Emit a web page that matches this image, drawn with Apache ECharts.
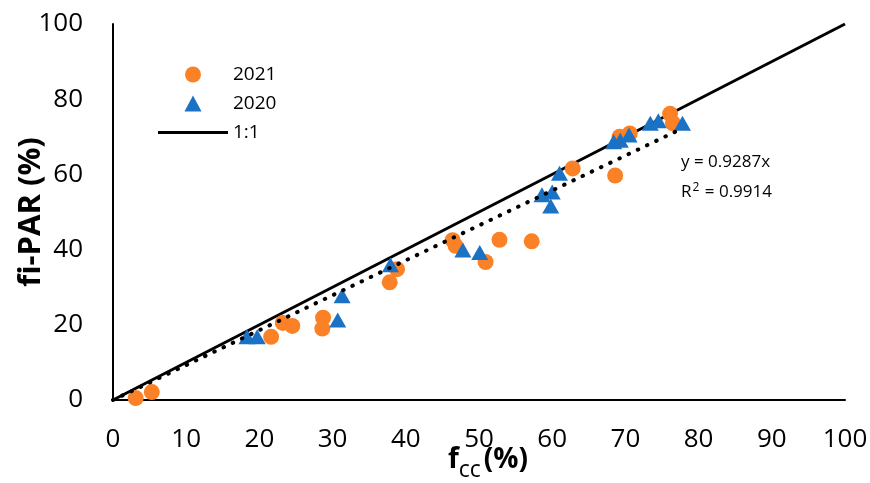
<!DOCTYPE html>
<html>
<head>
<meta charset="utf-8">
<script src="https://cdn.jsdelivr.net/npm/echarts@6/dist/echarts.min.js"></script>
<style>
  html, body { margin: 0; padding: 0; background: #ffffff; }
  #chart { width: 870px; height: 483px; }
</style>
</head>
<body>
<div id="chart"></div>
<script>
// f_cc (%) vs fi-PAR (%) measurements, one pair of arrays per season
const fcc2021   = [3.1, 5.3, 21.6, 23.2, 24.5, 28.6, 28.7, 37.8, 38.8, 46.4, 46.8, 50.9, 52.8, 57.2, 62.8, 68.6, 69.2, 70.6, 76.1, 76.5];
const fipar2021 = [0.5, 2.1, 16.8, 20.5, 19.7, 19.0, 21.9, 31.3, 34.8, 42.5, 41.0, 36.7, 42.6, 42.2, 61.6, 59.7, 70.0, 70.9, 76.1, 73.6];

const fcc2020   = [18.3, 19.7, 30.7, 31.3, 37.9, 47.8, 50.1, 58.6, 59.8, 60.0, 61.0, 68.4, 69.3, 70.5, 73.4, 74.5, 77.8];
const fipar2020 = [16.8, 16.8, 21.3, 27.7, 36.0, 39.9, 39.2, 54.6, 51.6, 55.3, 60.3, 68.7, 69.1, 70.5, 73.6, 74.3, 73.6];

// 1:1 reference line end points
const oneToOneX = [0, 100];

// Zero-intercept regression fitted to both seasons
const trendSlope = 0.9287;
const trendR2 = '0.9914';

const xTicks = { min: 0, max: 100, interval: 10 };
const yTicks = { min: 0, max: 100, interval: 20 };

const pairs = (xs, ys) => xs.map((x, i) => [x, ys[i]]);
const allX = fcc2021.concat(fcc2020);
const trendEnd = Math.max(...allX);

const FONT = '"Open Sans", "Liberation Sans", sans-serif';
const ORANGE = '#FB8126';
const BLUE = '#1B72C4';

const chart = echarts.init(document.getElementById('chart'), null, { renderer: 'canvas' });

chart.setOption({
  animation: false,
  backgroundColor: '#ffffff',
  textStyle: { fontFamily: FONT, color: '#000' },
  grid: { left: 113, right: 25, top: 24, bottom: 83, containLabel: false, outerBoundsMode: 'none' },
  legend: {
    data: [
      { name: '2021', icon: 'circle', itemStyle: { color: ORANGE } },
      { name: '2020', icon: 'path://M8,0 L16,15 L0,15 Z', itemStyle: { color: BLUE } },
      { name: '1:1', icon: 'path://M0,0 L70,0 L70,3 L0,3 Z', itemStyle: { color: '#000' } }
    ],
    orient: 'vertical',
    left: 158,
    top: 65,
    padding: 0,
    itemWidth: 70,
    itemHeight: 16,
    itemGap: 10,
    symbolKeepAspect: true,
    textStyle: { fontFamily: FONT, fontSize: 19, color: '#000' }
  },
  xAxis: {
    type: 'value',
    min: xTicks.min, max: xTicks.max, interval: xTicks.interval,
    axisLine: { show: true, lineStyle: { color: '#000', width: 2 } },
    axisTick: { show: false },
    splitLine: { show: false },
    axisLabel: { fontFamily: FONT, fontSize: 26, color: '#000', margin: 27 },
    name: '{f|f}{s|cc}{p|(%)}',
    nameLocation: 'middle',
    nameGap: 46,
    nameMoveOverlap: false,
    nameTextStyle: {
      rich: {
        f: { fontFamily: FONT, fontSize: 28, fontWeight: 'bold', color: '#000', lineHeight: 32, padding: [0, 0, 0, 18], verticalAlign: 'top' },
        s: { fontFamily: FONT, fontSize: 23, color: '#000', lineHeight: 23, padding: [13, 0, 0, 0], verticalAlign: 'top' },
        p: { fontFamily: FONT, fontSize: 28, fontWeight: 'bold', color: '#000', lineHeight: 32, padding: [0, 0, 0, 3], verticalAlign: 'top' }
      }
    }
  },
  yAxis: {
    type: 'value',
    min: yTicks.min, max: yTicks.max, interval: yTicks.interval,
    axisLine: { show: true, lineStyle: { color: '#000', width: 2 } },
    axisTick: { show: false },
    splitLine: { show: false },
    axisLabel: { fontFamily: FONT, fontSize: 26, color: '#000', margin: 30 },
    name: 'fi-PAR (%)',
    nameLocation: 'middle',
    nameGap: 66,
    nameMoveOverlap: false,
    nameTextStyle: { fontFamily: FONT, fontSize: 31, fontWeight: 'bold', color: '#000' }
  },
  series: [
    {
      name: '1:1',
      type: 'line',
      data: oneToOneX.map(v => [v, v]),
      symbol: 'none',
      lineStyle: { color: '#000', width: 3 },
      itemStyle: { color: '#000' },
      z: 1,
      silent: true
    },
    {
      name: '2021',
      type: 'scatter',
      data: pairs(fcc2021, fipar2021),
      symbol: 'circle',
      symbolSize: 16,
      itemStyle: { color: ORANGE, opacity: 1 },
      z: 2
    },
    {
      name: '2020',
      type: 'scatter',
      data: pairs(fcc2020, fipar2020),
      symbol: 'triangle',
      symbolSize: [17, 15],
      itemStyle: { color: BLUE, opacity: 1 },
      z: 3
    },
    {
      name: 'Linear',
      type: 'line',
      data: [[0, 0], [trendEnd, trendSlope * trendEnd]],
      symbol: 'none',
      lineStyle: { color: '#000', width: 4, type: [0.5, 9.7], cap: 'round' },
      z: 4,
      silent: true
    }
  ],
  graphic: [
    {
      type: 'text',
      left: 681,
      top: 154,
      style: {
        text: '{t|y = ' + trendSlope + 'x}\n{t|R}{sup|2}{t| = ' + trendR2 + '}',
        fill: '#000',
        rich: {
          t: { fontFamily: FONT, fontSize: 17, lineHeight: 30, fill: '#000' },
          sup: { fontFamily: FONT, fontSize: 12, lineHeight: 30, padding: [0, 1, 9, 1], fill: '#000' }
        }
      }
    }
  ]
});
</script>
</body>
</html>
